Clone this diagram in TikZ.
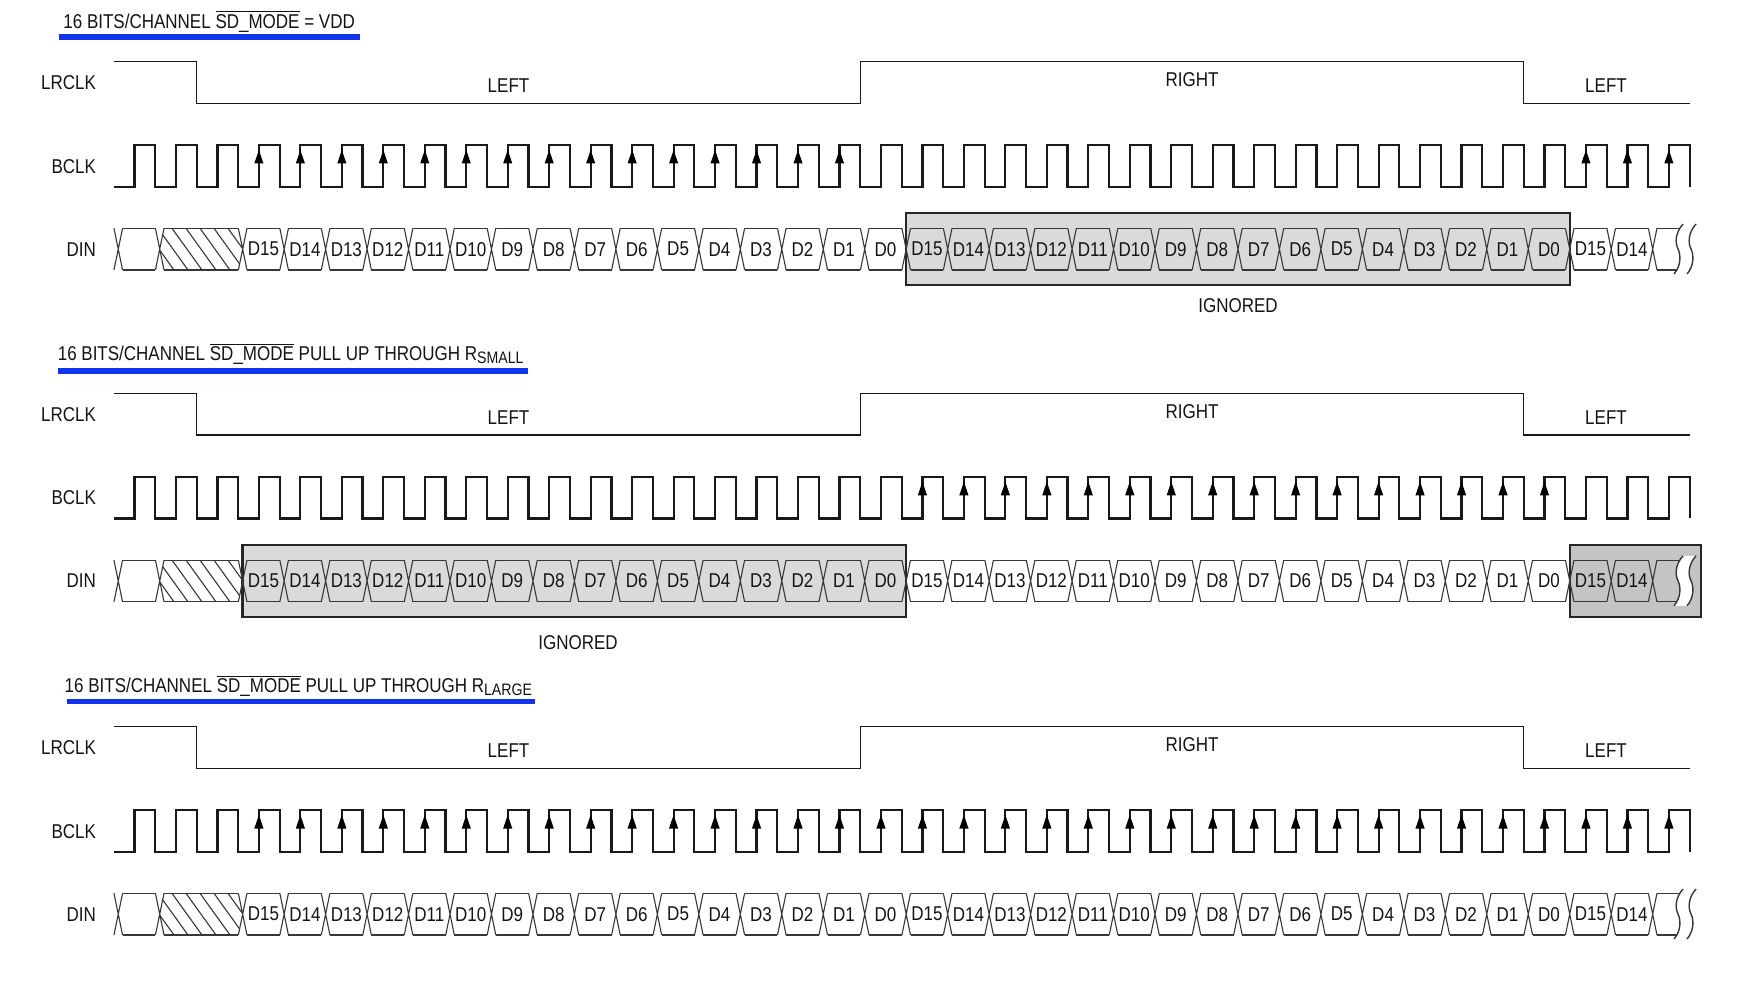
\documentclass[tikz,border=0pt]{standalone}
\usepackage{fontspec}
\setmainfont{Liberation Sans}[FakeStretch=0.85]
\definecolor{ulblue}{RGB}{16,52,236}
\definecolor{boxlight}{RGB}{218,218,218}
\definecolor{boxdark}{RGB}{196,196,196}
\definecolor{dinline}{RGB}{55,55,55}
\newcommand\timingsection[2]{%
  % LRCLK
  \draw[lrwave] (113.76,61.7) -- (196.70,61.7) -- (196.70,103.3) -- (860.22,103.3)
     -- (860.22,61.7) -- (1523.74,61.7) -- (1523.74,103.3) -- (1689.62,103.3);
  % BCLK
  \draw[bwave] (113.76,186.7) \foreach \k in {0,...,37}{
     -- ({113.76+(\k+0.5)*41.47},186.7) -- ({113.76+(\k+0.5)*41.47},145)
     -- ({113.76+(\k+1)*41.47},145) -- ({113.76+(\k+1)*41.47},186.7)};
  % sampling arrows
  \foreach \k in {#2}{
     \fill[black] ({113.76+(\k+0.5)*41.47},150) -- ++(-4.6,13.5) -- ++(9.2,0) -- cycle;}
  % DIN crossings
  \foreach \k in {0,1,3,4,...,37}{
     \draw[dinw] ({118.26+\k*41.47-4.3},228.3) -- ({118.26+\k*41.47+4.3},270)
                 ({118.26+\k*41.47-4.3},270) -- ({118.26+\k*41.47+4.3},228.3);}
  % DIN top / bottom lines
  \foreach \k in {0,3,4,...,36}{
     \draw[dinw] ({118.26+\k*41.47+4.3},228.3) -- ({118.26+(\k+1)*41.47-4.3},228.3)
                 ({118.26+\k*41.47+4.3},270) -- ({118.26+(\k+1)*41.47-4.3},270);}
  \draw[dinw] (164.03,228.3) -- (238.37,228.3) (164.03,270) -- (238.37,270);
  \draw[dinw] (1656.95,228.3) -- (1680.5,228.3) (1656.95,270) -- (1678,270);
  % hatched field
  \begin{scope}
    \clip (159.73,249.15) -- (164.03,228.3) -- (238.37,228.3) -- (242.67,249.15)
          -- (238.37,270) -- (164.03,270) -- cycle;
    \foreach \i in {0,...,8}{\draw[dinw] ({130+\i*14},228.3) -- ++(30,41.7);}
  \end{scope}
  % break mark
  \path[fill=white] (1683,224) .. controls (1675,233) and (1675,243) .. (1678,249)
     .. controls (1681,255) and (1681,266) .. (1674,274) -- (1687,274)
     .. controls (1694,266) and (1694,255) .. (1691,249)
     .. controls (1688,243) and (1688,233) .. (1696,224) -- cycle;
  \draw[dinw, line width=0.7pt] (1683,224) .. controls (1675,233) and (1675,243) .. (1678,249)
     .. controls (1681,255) and (1681,266) .. (1674,274);
  \draw[dinw, line width=0.7pt] (1696,224) .. controls (1688,233) and (1688,243) .. (1691,249)
     .. controls (1694,255) and (1694,266) .. (1687,274);
  % bit labels
  \foreach \k in {3,...,36}{
     \pgfmathtruncatemacro\bitno{\k<19 ? 18-\k : (\k<35 ? 34-\k : 50-\k)}
     \node[lab] (cell#1-\k) at ({118.26+(\k+0.5)*41.47},249.2) {D\bitno};}
  % signal names and channel labels
  \node[lab, anchor=east] (lr#1) at (96.4,82.5) {LRCLK};
  \node[lab, anchor=east] (bc#1) at (96.4,166.2) {BCLK};
  \node[lab, anchor=east] (din#1) at (96.4,249.3) {DIN};
  \node[lab] (lefta#1) at (508.5,85.8) {LEFT};
  \node[lab] (right#1) at (1192,79.5) {RIGHT};
  \node[lab] (leftb#1) at (1606,85.8) {LEFT};
}
\begin{document}
\begin{tikzpicture}[x=0.5pt,y=-0.5pt,
  lab/.style={font=\fontsize{10}{12}\selectfont, inner sep=0pt, text=black!92},
  ttl/.style={font=\fontsize{10}{12}\selectfont, inner sep=0pt, text=black!92, anchor=base west},
  lrwave/.style={line width=0.7pt, black!90, line join=miter},
  bwave/.style={line width=1.1pt, black!90, line join=miter},
  dinw/.style={line width=0.55pt, dinline},
  ignbox/.style={line width=1.2pt, draw=black!85},
  uline/.style={ulblue, line width=2.8pt}]
\useasboundingbox (0,0) rectangle (1740,983);
\fill[white] (0,0) rectangle (1740,983);

% ---------- section 1 ----------
\node[ttl] (title1) at (63,28.3) {16 BITS/CHANNEL $\overline{\hbox{SD\_MODE}}$ = VDD};
\draw[uline] (59.3,36.8) -- (359.7,36.8);
\filldraw[fill=boxlight, ignbox] (906.2,213.2) rectangle (1569.7,285.2);
\timingsection{a}{3,...,17,35,36,37}
\node[lab] (ign1) at (1238,305.8) {IGNORED};

% ---------- section 2 ----------
\node[ttl] (title2) at (57.4,360.7) {16 BITS/CHANNEL $\overline{\hbox{SD\_MODE}}$ PULL UP THROUGH R\raisebox{-1.3pt}{\fontsize{8.3}{10}\selectfont SMALL}};
\draw[uline] (58.2,371.3) -- (528.1,371.3);
\begin{scope}[shift={(0,331.8)}]
  \filldraw[fill=boxlight, ignbox] (242.67,213.2) rectangle (906.2,285.2);
  \filldraw[fill=boxdark, ignbox] (1569.7,213.2) rectangle (1700.7,285.2);
  \timingsection{b}{19,...,34}
\end{scope}
\node[lab] (ign2) at (578,643) {IGNORED};

% ---------- section 3 ----------
\node[ttl] (title3) at (64.3,692.7) {16 BITS/CHANNEL $\overline{\hbox{SD\_MODE}}$ PULL UP THROUGH R\raisebox{-1.3pt}{\fontsize{8.3}{10}\selectfont LARGE}};
\draw[uline] (66.8,701.3) -- (535,701.3);
\begin{scope}[shift={(0,665)}]
  \timingsection{c}{3,...,37}
\end{scope}
\end{tikzpicture}
\end{document}
